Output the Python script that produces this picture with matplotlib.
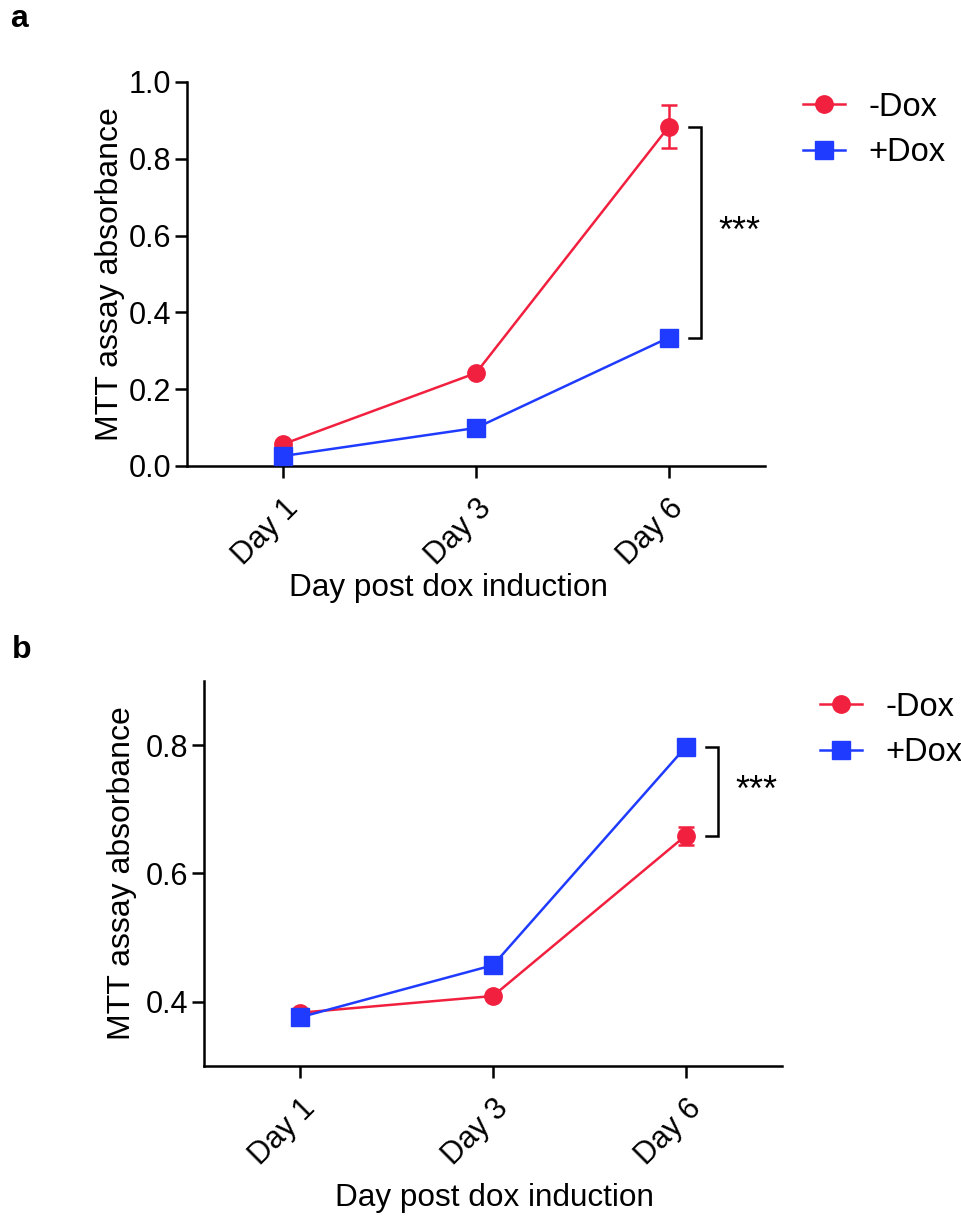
import numpy as np
import matplotlib
matplotlib.use('Agg')
import matplotlib.pyplot as plt

plt.rcParams['font.family'] = ['Liberation Sans', 'DejaVu Sans']

# data
days = ['Day 1', 'Day 3', 'Day 6']

a_minus = [0.057, 0.242, 0.883]
a_minus_err = [0.008, 0.008, 0.056]
a_plus = [0.026, 0.099, 0.334]
a_plus_err = [0.005, 0.008, 0.010]

b_minus = [0.383, 0.409, 0.659]
b_minus_err = [0.004, 0.004, 0.014]
b_plus = [0.376, 0.457, 0.797]
b_plus_err = [0.004, 0.006, 0.005]

red = '#F2203F'
blue = '#1F3BFF'

fig = plt.figure(figsize=(9.62, 12.16), dpi=100)

ax_a = fig.add_axes([0.1944, 0.6168, 0.6008, 0.3158])
ax_b = fig.add_axes([0.2121, 0.1234, 0.6008, 0.3166])


def draw_panel(ax, minus, minus_err, plus, plus_err, ylim, yticks, fmt):
    x = np.arange(len(days))
    l1, = ax.plot(x, minus, '-o', color=red, lw=1.8, markersize=12.5, label='-Dox', zorder=3)
    l2, = ax.plot(x, plus, '-s', color=blue, lw=1.8, markersize=13, label='+Dox', zorder=3)
    ax.errorbar(x, minus, yerr=minus_err, fmt='none', ecolor=red, elinewidth=1.8,
                capsize=6, capthick=1.8, zorder=2)
    ax.errorbar(x, plus, yerr=plus_err, fmt='none', ecolor=blue, elinewidth=1.8,
                capsize=6, capthick=1.8, zorder=2)
    ax.set_xlim(-0.5, len(days) - 0.5)
    ax.set_ylim(*ylim)
    ax.set_yticks(yticks)
    ax.set_yticklabels([fmt % v for v in yticks])
    ax.set_xticks(x)
    ax.set_xticklabels(days, rotation=45, ha='right', rotation_mode='anchor')
    for s in ['top', 'right']:
        ax.spines[s].set_visible(False)
    for s in ['left', 'bottom']:
        ax.spines[s].set_linewidth(1.8)
    ax.tick_params(width=1.8, length=8.5, labelsize=22, pad=3)
    ax.tick_params(axis='x', pad=11)

    # significance bracket at the last day
    top = max(minus[-1], plus[-1])
    bot = min(minus[-1], plus[-1])
    xb = x[-1] + 0.167
    ax.plot([xb - 0.06, xb, xb, xb - 0.06], [top, top, bot, bot], color='black',
            lw=1.8, clip_on=False, solid_joinstyle='miter')
    ax.text(xb + 0.2, (top + bot) / 2, '***', fontsize=26, ha='center', va='center',
            clip_on=False)
    return l1, l2


leg_kw = dict(loc='center left', bbox_transform=fig.transFigure, frameon=False,
              fontsize=23.5, handlelength=1.3, handletextpad=0.7, labelspacing=0.45,
              borderpad=0, borderaxespad=0)

h = draw_panel(ax_a, a_minus, a_minus_err, a_plus, a_plus_err, (0, 1.0),
               [0.0, 0.2, 0.4, 0.6, 0.8, 1.0], '%.1f')
ax_a.set_ylabel('MTT assay absorbance', fontsize=23, va='center')
ax_a.yaxis.set_label_coords(-0.133, 0.5)
ax_a.set_xlabel('Day post dox induction', fontsize=22.7, va='center')
ax_a.xaxis.set_label_coords(0.453, -0.318)
ax_a.legend(handles=h, bbox_to_anchor=(803 / 962, 1 - 130 / 1216), **leg_kw)

h = draw_panel(ax_b, b_minus, b_minus_err, b_plus, b_plus_err, (0.3, 0.9),
               [0.4, 0.6, 0.8], '%.1f')
ax_b.set_ylabel('MTT assay absorbance', fontsize=23, va='center')
ax_b.yaxis.set_label_coords(-0.142, 0.5)
ax_b.set_xlabel('Day post dox induction', fontsize=22.7, va='center')
ax_b.xaxis.set_label_coords(0.503, -0.344)
ax_b.legend(handles=h, bbox_to_anchor=(820 / 962, 1 - 730 / 1216), **leg_kw)

fig.text(10 / 962, 1 - 27 / 1216, 'a', fontsize=23, fontweight='bold', va='baseline')
fig.text(12 / 962, 1 - 658 / 1216, 'b', fontsize=23, fontweight='bold', va='baseline')

plt.savefig('out.png', dpi=100)
